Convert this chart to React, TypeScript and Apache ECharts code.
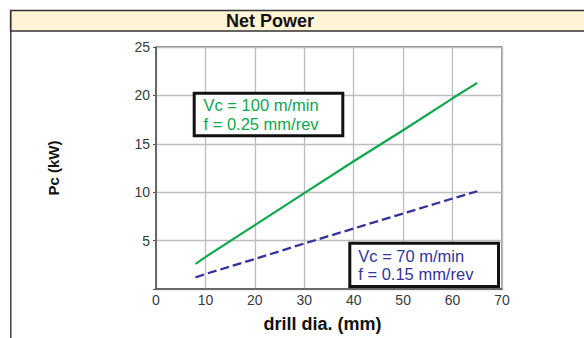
import React, { useEffect, useRef } from "react";
import * as echarts from "echarts";

const diameters = [8, 10, 20, 30, 40, 50, 60, 65];
const powerHigh = [2.6, 3.3, 6.6, 9.9, 13.2, 16.4, 19.7, 21.3];
const powerLow = [1.2, 1.55, 3.1, 4.7, 6.25, 7.8, 9.35, 10.1];
const xTicks = [0, 10, 20, 30, 40, 50, 60, 70];
const yTicks = [0, 5, 10, 15, 20, 25];
const titleText = "Net Power";
const highLabel = ["Vc = 100 m/min", "f = 0.25 mm/rev"];
const lowLabel = ["Vc = 70 m/min", "f = 0.15 mm/rev"];

const FONT = "'Liberation Sans', Arial, Helvetica, sans-serif";
const GREEN = "#10a64e";
const BLUE = "#33339a";

export default function App() {
  const ref = useRef<HTMLDivElement>(null);
  useEffect(() => {
    if (!ref.current) return;
    const chart = echarts.init(ref.current, null, { renderer: "svg" });
    const option = {
      animation: false,
      backgroundColor: "#ffffff",
      grid: {
        left: 156,
        top: 47,
        right: 82,
        bottom: 40,
        show: true,
        borderColor: "#6a6a6a",
        borderWidth: 1.3,
        backgroundColor: "transparent",
      },
      xAxis: {
        type: "value",
        min: xTicks[0],
        max: xTicks[xTicks.length - 1],
        interval: 10,
        name: "drill dia. (mm)",
        nameLocation: "middle",
        nameGap: 26,
        nameTextStyle: {
          fontFamily: FONT,
          fontWeight: "bold",
          fontSize: 18,
          color: "#111",
          verticalAlign: "top",
          padding: [0, 13, 0, 0],
        },
        axisLine: { show: true, lineStyle: { color: "#555", width: 1.5 } },
        axisTick: { show: false },
        axisLabel: { fontFamily: FONT, fontSize: 14, color: "#3a3a3a", margin: 4 },
        splitLine: { show: true, lineStyle: { color: "#bdbdbd", width: 1.3 } },
      },
      yAxis: {
        type: "value",
        min: yTicks[0],
        max: yTicks[yTicks.length - 1],
        interval: 5,
        name: "Pc (kW)",
        nameLocation: "middle",
        nameRotate: 90,
        nameGap: 95,
        nameTextStyle: {
          fontFamily: FONT,
          fontWeight: "bold",
          fontSize: 15,
          color: "#111",
        },
        axisLine: { show: true, lineStyle: { color: "#555", width: 1.5 } },
        axisTick: { show: true, length: 3, lineStyle: { color: "#555", width: 1 } },
        axisLabel: {
          fontFamily: FONT,
          fontSize: 14,
          color: "#3a3a3a",
          margin: 6,
          formatter: (v: number) => (v === 0 ? "" : String(v)),
        },
        splitLine: { show: true, lineStyle: { color: "#bdbdbd", width: 1.3 } },
      },
      series: [
        {
          type: "line",
          data: diameters.map((d, i) => [d, powerHigh[i]]),
          showSymbol: false,
          symbol: "none",
          lineStyle: { color: GREEN, width: 2.2 },
          z: 3,
        },
        {
          type: "line",
          data: diameters.map((d, i) => [d, powerLow[i]]),
          showSymbol: false,
          symbol: "none",
          lineStyle: { color: BLUE, width: 2.3, type: [9, 4] },
          z: 3,
        },
      ],
      graphic: [
        {
          type: "rect",
          z: 0,
          shape: { x: 10.5, y: 10.5, width: 620, height: 20.5 },
          style: { fill: "#FFF4D6", stroke: "#333", lineWidth: 1.3 },
        },
        {
          type: "line",
          z: 0,
          shape: { x1: 10.8, y1: 10.5, x2: 10.8, y2: 345 },
          style: { stroke: "#333", lineWidth: 1.4 },
        },
        {
          type: "text",
          z: 1,
          style: {
            x: 270,
            y: 21,
            text: titleText,
            font: `bold 18px ${FONT}`,
            fill: "#111",
            textAlign: "center",
            textVerticalAlign: "middle",
          },
        },
        {
          type: "rect",
          z: 10,
          shape: { x: 194.2, y: 93.2, width: 148.6, height: 42.6 },
          style: { fill: "#fff", stroke: "#111", lineWidth: 3 },
        },
        {
          type: "text",
          z: 11,
          style: {
            x: 203.5,
            y: 96,
            text: highLabel.join("\n"),
            font: `16.5px ${FONT}`,
            lineHeight: 18.5,
            fill: GREEN,
            textAlign: "left",
            textVerticalAlign: "top",
          },
        },
        {
          type: "rect",
          z: 10,
          shape: { x: 349.8, y: 243.2, width: 148.7, height: 43.3 },
          style: { fill: "#fff", stroke: "#111", lineWidth: 3 },
        },
        {
          type: "text",
          z: 11,
          style: {
            x: 358.3,
            y: 246.5,
            text: lowLabel.join("\n"),
            font: `16.5px ${FONT}`,
            lineHeight: 18.5,
            fill: BLUE,
            textAlign: "left",
            textVerticalAlign: "top",
          },
        },
      ],
    };
    chart.setOption(option as any);
    return () => chart.dispose();
  }, []);
  return (
    <div
      ref={ref}
      style={{ position: "absolute", left: 0, top: 0, width: 584, height: 338 }}
    />
  );
}
